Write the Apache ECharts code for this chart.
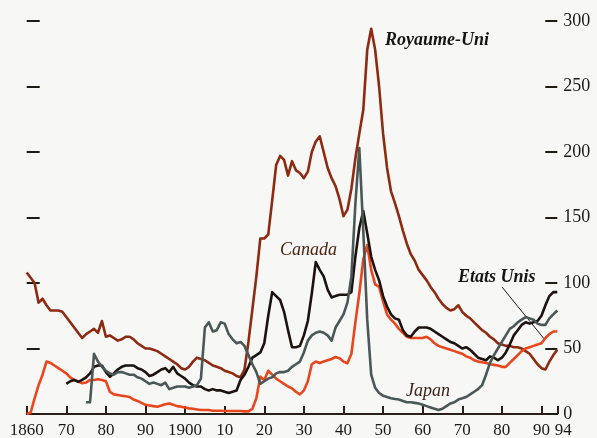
<!DOCTYPE html>
<html>
<head>
<meta charset="utf-8">
<script src="https://cdn.jsdelivr.net/npm/echarts@6/dist/echarts.min.js"></script>
<style>
html,body{margin:0;padding:0;background:#f7f7f5;}
#chart{width:597px;height:438px;}
</style>
</head>
<body>
<div id="chart"></div>
<script>
// Debt as % of GDP, yearly values
const ukStart = 1860;
const ukValues = [
  108,104,100,85,88,83,79,79,79,78,
  74,70,66,62,58,61,63,65,62,71,
  59,60,58,56,57,59,59,57,54,52,
  50,50,49,48,46,44,42,40,38,35,
  34,36,40,43,42,41,39,37,36,35,
  33,32,31,29,28,34,55,80,105,134,
  134,137,163,190,197,194,182,193,186,184,
  180,185,200,208,212,200,188,180,174,164,
  151,156,172,195,214,232,278,294,278,250,
  214,188,170,161,151,140,130,122,117,110,
  106,102,97,93,88,84,81,79,80,83,
  78,75,73,70,67,64,62,59,57,54,
  53,52,52,51,51,50,48,46,42,38,
  35,34,40,45,49
];
const usStart = 1860;
const usValues = [
  0,1,12,22,30,40,39,37,35,33,
  31,28,26,25,23.5,24,26,26,26.5,26,
  25,17,15,14.5,14,13.5,13,11,10,8.5,
  7,6.5,6,5.6,6.5,7.5,8,7,6,5.5,
  5,4.3,4,3.5,3,3,3,2.5,2.5,2.5,
  2.3,2.3,2.3,2.3,2.3,2,2,4,12,28.5,
  26,33,30,27,25,23,21,19.5,17,15,
  18,25,38,40,39,40,41,42,43.5,42.5,
  40,38.7,46,70,92,118,129,110,99,97,
  86,76,72,69,65,62,59,58,58,58,
  58,59,57,54,52,51,50,49,48,47,
  46,44,43,41,40,39.5,39,38,37.5,37,
  36,36,39,42,45,48,50,51,52,53,
  54,58,61,63,63
];
const canadaStart = 1870;
const canadaValues = [
  23,25,26,24.5,26,28,31,36,37,37,
  32,28.5,31,34,36,37,37,37,35,34,
  32,29,30,32,34,35,32,36,31,29,
  27,24,22,21,21,19,18,19,18,18,
  17,16,17,18,26,30,36,43,45,47,
  54,75,93,90,87,78,64,51,51,52,
  60,71,92,116,110,105,95,89,90,91,
  91,91,93,120,142,155,138,120,110,102,
  90,82,76,73,72,64,60,59,63,66,
  66,66,65,63,61,59,57,55,54,52,
  50,51,49,46,43,42,41,44,43,41,
  43,47,53,60,64,68,70,69,70,71,
  75,83,90,93,93
];
const japanStart = 1875;
const japanValues = [
  9,9,46,40,36,
  33,31,30,32,32,31,30,30,28,27,
  25,23,24,23,22,24,19,20,21,21,
  21,20,21,22,27,66,70,63,64,70,
  69,61,57,54,55,52,45,38,32,23,
  25,27,28,31,32,32,33,36,38,40,
  47,56,60,62,63,62,60,56,66,71,
  76,85,105,160,203,140,72,30,20,16,
  14,13,12,11.5,11,10,9,9,8.5,8,
  7,6,5,4,3,4,6,8,9,11,
  12,13,15,17,19,22,30,39,45,50,
  55,60,65,67,70,72,74,73,72,69,
  68,68,73,76,79
];
const seriesNames = ['Royaume-Uni', 'Etats Unis', 'Canada', 'Japan'];
const yTicks = [0, 50, 100, 150, 200, 250, 300];

function pairs(start, vals) {
  return vals.map(function (v, i) { return [start + i, v]; });
}

const serif = '"Liberation Serif", "DejaVu Serif", serif';
const chart = echarts.init(document.getElementById('chart'));

function lineSeries(name, start, vals, color) {
  return {
    name: name, type: 'line', data: pairs(start, vals), yAxisIndex: 0,
    showSymbol: false, symbol: 'none',
    lineStyle: { color: color, width: 2.6, join: 'round' },
    itemStyle: { color: color }, animation: false
  };
}

chart.setOption({
  backgroundColor: '#f7f7f5',
  animation: false,
  grid: { left: 26.7, right: 39.7, top: 21, bottom: 24, containLabel: false, outerBoundsMode: 'none' },
  xAxis: {
    type: 'value', min: 1860, max: 1994, interval: 10,
    axisLine: { show: true, onZero: false, lineStyle: { color: '#2a1e18', width: 2 } },
    axisTick: { show: true, inside: true, length: 8, lineStyle: { color: '#2a1e18', width: 2 } },
    splitLine: { show: false },
    axisLabel: {
      showMinLabel: true, showMaxLabel: true,
      fontFamily: serif, fontSize: 17, color: '#1a1a1a', margin: 8,
      formatter: function (v) {
        if (v === 1860 || v === 1900) return String(v);
        if (v === 1994) return '{r|94}';
        return String(v % 100);
      },
      rich: { r: { fontFamily: serif, fontSize: 17, color: '#1a1a1a', padding: [0, 0, 0, 12] } }
    }
  },
  yAxis: [
    {
      type: 'value', position: 'right', min: 0, max: 300, interval: 50,
      axisLine: { show: false },
      axisTick: { show: true, inside: true, length: 12, lineStyle: { color: '#1e1a14', width: 2 } },
      splitLine: { show: false },
      axisLabel: { fontFamily: serif, fontSize: 18, color: '#1a1a1a', margin: 6 }
    },
    {
      type: 'value', position: 'left', min: 0, max: 300, interval: 50,
      axisLine: { show: false },
      axisTick: { show: true, inside: true, length: 13, lineStyle: { color: '#1e1a14', width: 2 } },
      splitLine: { show: false },
      axisLabel: { show: false }
    }
  ],
  series: [
    lineSeries(seriesNames[0], ukStart, ukValues, '#8c2a12'),
    lineSeries(seriesNames[1], usStart, usValues, '#e8461c'),
    lineSeries(seriesNames[2], canadaStart, canadaValues, '#1c1210'),
    lineSeries(seriesNames[3], japanStart, japanValues, '#4a5757')
  ],
  graphic: [
    { type: 'text', left: 385, top: 31, style: { text: seriesNames[0], font: 'italic bold 18px ' + serif, fill: '#151515' } },
    { type: 'text', left: 280, top: 241, style: { text: seriesNames[2], font: 'italic 18px ' + serif, fill: '#4a2412' } },
    { type: 'text', left: 458, top: 268, style: { text: seriesNames[1], font: 'italic bold 18px ' + serif, fill: '#151515' } },
    { type: 'text', left: 406, top: 382, style: { text: seriesNames[3], font: 'italic 18px ' + serif, fill: '#3a2418' } },
    { type: 'line', shape: { x1: 502, y1: 287, x2: 545, y2: 340 }, style: { stroke: '#1a1a1a', lineWidth: 1 } }
  ]
});
</script>
</body>
</html>
